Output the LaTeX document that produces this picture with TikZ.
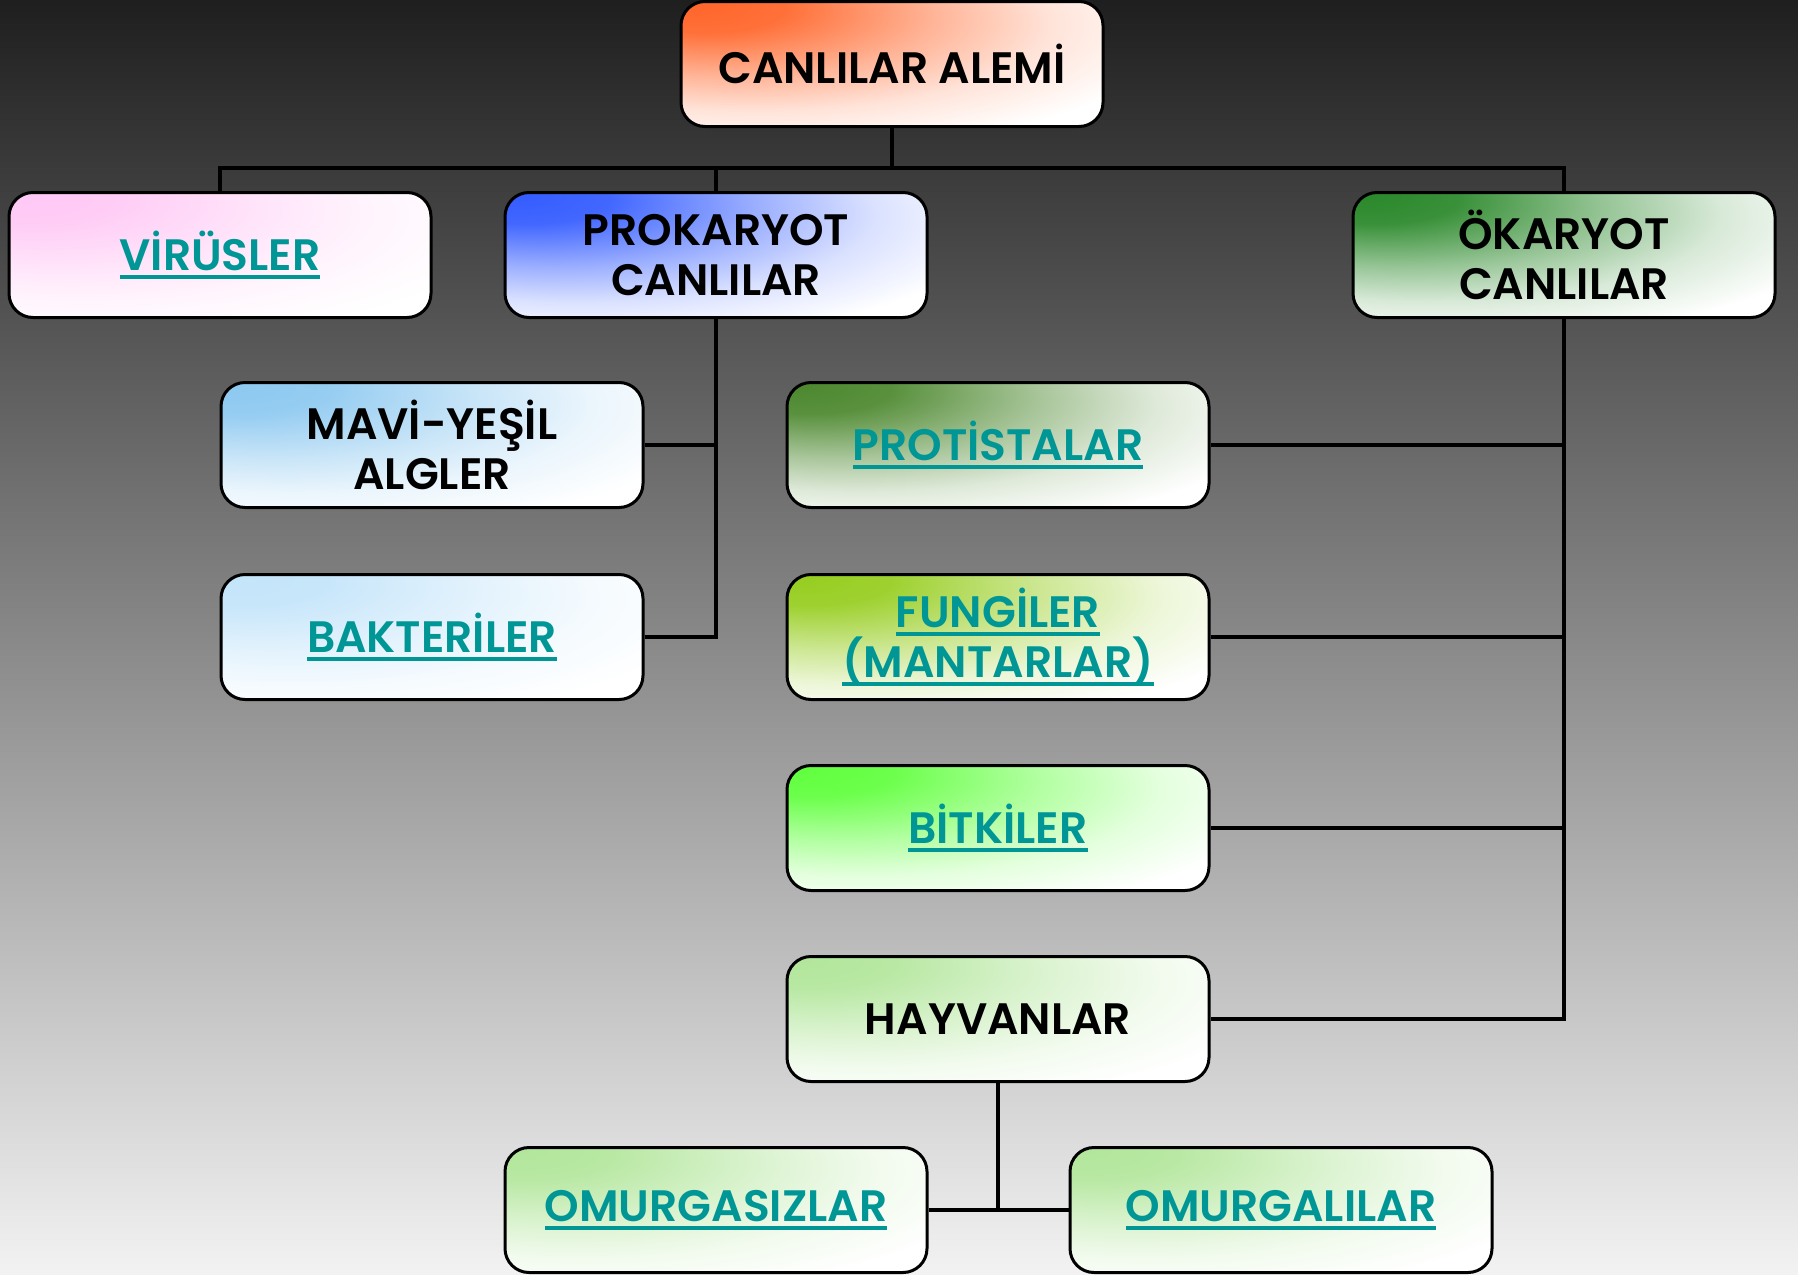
\documentclass[tikz,border=0pt]{standalone}
\usepackage{fontspec}
\setmainfont{Poppins}[UprightFont=* SemiBold]
\usepackage{xcolor}

\definecolor{linkteal}{RGB}{0,150,150}
\definecolor{alemicol}{RGB}{255,100,40}
\definecolor{viruscol}{RGB}{255,200,245}
\definecolor{prokcol}{RGB}{50,90,255}
\definecolor{okarcol}{RGB}{40,135,40}
\definecolor{mavicol}{RGB}{140,200,240}
\definecolor{baktcol}{RGB}{195,228,250}
\definecolor{protcol}{RGB}{75,135,45}
\definecolor{fungcol}{RGB}{150,205,30}
\definecolor{bitkcol}{RGB}{95,255,60}
\definecolor{hayvcol}{RGB}{178,230,155}
\colorlet{tintcolor}{white}

% glow from the upper left corner of a box
\pgfdeclareradialshading[tintcolor]{cornerglow}{\pgfpoint{-25bp}{25bp}}{%
	color(0bp)=(tintcolor); color(10bp)=(tintcolor!92!white);
	color(24bp)=(tintcolor!48!white); color(35bp)=(tintcolor!18!white);
	color(47bp)=(white); color(100bp)=(white)}

\newsavebox\lnkbox
\newcommand{\lnk}[1]{\textcolor{linkteal}{\sbox\lnkbox{#1}%
	\rlap{\rule[-4.5pt]{\wd\lnkbox}{2pt}}\usebox\lnkbox}}

\begin{document}
\begin{tikzpicture}[x=0.5pt, y=-0.5pt,
	every node/.style = {font=\fontsize{22}{25}\selectfont},
	box/.style = {shape=rectangle, rounded corners=12pt, draw=black, line width=1.5pt,
		align=center, minimum width=211pt, minimum height=62.5pt, inner sep=0pt},
	tint/.style = {box, /utils/exec={\colorlet{tintcolor}{#1}}, shade, shading=cornerglow},
	conn/.style = {draw=black, line width=2.4pt}]

	% background
	\shade[top color=black!88, middle color=black!42, bottom color=black!5]
		(0,0) rectangle (1798,1274);

	\node[tint=alemicol] (alemi) at (892,64) {CANLILAR ALEMİ};
	\node[tint=viruscol] (virus) at (220,255) {\lnk{VİRÜSLER}};
	\node[tint=prokcol] (prok) at (716,255) {PROKARYOT\\CANLILAR};
	\node[tint=okarcol] (okar) at (1564,255) {ÖKARYOT\\CANLILAR};

	\node[tint=mavicol] (mavi) at (432,445) {MAVİ-YEŞİL\\ALGLER};
	\node[tint=baktcol] (bakt) at (432,637) {\lnk{BAKTERİLER}};

	\node[tint=protcol] (protist) at (998,445) {\lnk{PROTİSTALAR}};
	\node[tint=fungcol] (fungi) at (998,637) {\lnk{FUNGİLER}\\\lnk{(MANTARLAR)}};
	\node[tint=bitkcol] (bitki) at (998,828) {\lnk{BİTKİLER}};
	\node[tint=hayvcol] (hayvan) at (998,1019) {HAYVANLAR};

	\node[tint=hayvcol] (omurgasiz) at (716,1210) {\lnk{OMURGASIZLAR}};
	\node[tint=hayvcol] (omurgali) at (1281,1210) {\lnk{OMURGALILAR}};

	% bus under the top box
	\coordinate (bus) at (892,168);
	\draw[conn] (alemi.south) -- (bus);
	\draw[conn] (virus.north) |- (bus) -| (okar.north);
	\draw[conn] (prok.north) -- (prok.north |- bus);

	% prokaryotes
	\draw[conn] (prok.south) |- (bakt.east);
	\draw[conn] (mavi.east) -| (prok.south);

	% eukaryotes
	\draw[conn] (okar.south) |- (hayvan.east);
	\foreach \n in {protist,fungi,bitki}
		\draw[conn] (\n.east) -| (okar.south);

	% animals
	\draw[conn] (hayvan.south) |- (omurgasiz.east);
	\draw[conn] (hayvan.south) |- (omurgali.west);
\end{tikzpicture}
\end{document}
